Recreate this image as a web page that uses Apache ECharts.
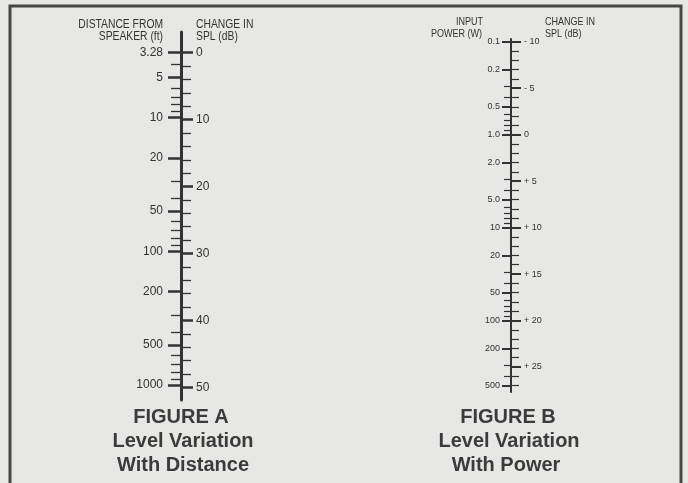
<!DOCTYPE html>
<html>
<head>
<meta charset="utf-8">
<title>Level Variation</title>
<script src="https://cdn.jsdelivr.net/npm/echarts@6/dist/echarts.min.js"></script>
<style>
    html, body { margin: 0; padding: 0; background: #e7e7e5; }
    #chart { width: 688px; height: 483px; }
</style>
</head>
<body>
<div id="chart"></div>
<script>
// figure A: distance (ft) against change in SPL (dB)
var distMajor = [3.28, 5, 10, 20, 50, 100, 200, 500, 1000];
var distLabels = ['3.28', '5', '10', '20', '50', '100', '200', '500', '1000'];
var distMinor = [4, 6, 7, 8, 9, 30, 40, 60, 70, 80, 90, 300, 400, 600, 700, 800, 900];
var dbMajorA = [0, 10, 20, 30, 40, 50];
var dbMinorA = [2, 4, 6, 8, 12, 14, 16, 18, 22, 24, 26, 28, 32, 34, 36, 38, 42, 44, 46, 48];

// figure B: input power (W) against change in SPL (dB)
var powerMajor = [0.1, 0.2, 0.5, 1, 2, 5, 10, 20, 50, 100, 200, 500];
var powerLabels = ['0.1', '0.2', '0.5', '1.0', '2.0', '5.0', '10', '20', '50', '100', '200', '500'];
var powerMinor = [0.3, 0.4, 0.6, 0.7, 0.8, 0.9, 3, 4, 6, 7, 8, 9, 30, 40, 60, 70, 80, 90, 300, 400];
var dbMajorB = [-10, -5, 0, 5, 10, 15, 20, 25];
var dbMinorB = [-9, -8, -7, -6, -4, -3, -2, -1, 1, 2, 3, 4, 6, 7, 8, 9, 11, 12, 13, 14, 16, 17, 18, 19, 21, 22, 23, 24, 26, 27];

var SANS = "'Liberation Sans', Arial, sans-serif",
    ink = '#333333',
    titleInk = '#3b3b3b';

function toDb(list, ref, k){
    return list.map(function(v){
        return k * Math.log10(v / ref);
    });
}

var distMajorDb = toDb(distMajor, 3.28, 20),
    distMinorDb = toDb(distMinor, 3.28, 20),
    powerMajorDb = toDb(powerMajor, 1, 10),
    powerMinorDb = toDb(powerMinor, 1, 10);

function lookup(values, labels){
    return function(v){
        for(var i = 0; i < values.length; i++){
            if(Math.abs(values[i] - v) < 1e-6) return labels[i];
        }
        return '';
    };
}

function signed(v){
    if(v < 0) return '- ' + (-v);
    if(v > 0) return '+ ' + v;
    return '0';
}

// one scale side of a nomogram; every side sits on the same vertical line
function scaleAxis(grid, range, opt){
    return {
        type: 'value',
        gridIndex: grid,
        min: range[0],
        max: range[1],
        inverse: true,
        position: 'left',
        axisLine: { show: !!opt.line, lineStyle: { color: ink, width: opt.line || 1 } },
        splitLine: { show: false },
        axisTick: {
            show: true,
            inside: opt.inside,
            length: opt.len,
            customValues: opt.ticks,
            lineStyle: { color: ink, width: opt.width }
        },
        axisLabel: opt.format ? {
            show: true,
            inside: opt.inside,
            margin: opt.margin,
            customValues: opt.ticks,
            formatter: opt.format,
            color: ink,
            fontFamily: SANS,
            fontSize: opt.size
        } : { show: false }
    };
}

// squeeze narrows the caption text like the condensed face of the original
function txt(text, x, y, align, font, color, squeeze){
    return {
        type: 'text',
        x: x,
        y: y,
        scaleX: squeeze || 1,
        style: {
            text: text,
            font: font,
            fill: color || ink,
            align: align,
            textAlign: align,
            verticalAlign: 'middle',
            textVerticalAlign: 'middle'
        }
    };
}

var rangeA = [-3.1, 51.9],
    rangeB = [-10.3, 27.7],
    headA = "12px " + SANS,
    headB = "11px " + SANS,
    big = "bold 20px " + SANS;

var chart = echarts.init(document.getElementById('chart'));

chart.setOption({
    backgroundColor: '#e7e7e5',
    animation: false,
    grid: [
        { left: 181, top: 32, width: 1, height: 368 },
        { left: 511, top: 39, width: 1, height: 353 }
    ],
    xAxis: [
        { type: 'value', gridIndex: 0, show: false },
        { type: 'value', gridIndex: 1, show: false }
    ],
    yAxis: [
        scaleAxis(0, rangeA, { line: 3, inside: false, len: 13, width: 2.5, ticks: distMajorDb, format: lookup(distMajorDb, distLabels), margin: 18, size: 12 }),
        scaleAxis(0, rangeA, { inside: false, len: 10, width: 1.3, ticks: distMinorDb }),
        scaleAxis(0, rangeA, { inside: true, len: 12, width: 2.5, ticks: dbMajorA, format: function(v){ return String(v); }, margin: 15, size: 12 }),
        scaleAxis(0, rangeA, { inside: true, len: 10, width: 1.3, ticks: dbMinorA }),

        scaleAxis(1, rangeB, { line: 2, inside: false, len: 9, width: 2, ticks: powerMajorDb, format: lookup(powerMajorDb, powerLabels), margin: 11, size: 9 }),
        scaleAxis(1, rangeB, { inside: false, len: 7, width: 1.2, ticks: powerMinorDb }),
        scaleAxis(1, rangeB, { inside: true, len: 10, width: 2, ticks: dbMajorB, format: signed, margin: 13, size: 9 }),
        scaleAxis(1, rangeB, { inside: true, len: 8, width: 1.2, ticks: dbMinorB })
    ],
    graphic: [
        {
            type: 'rect',
            shape: { x: 10, y: 6, width: 671, height: 520 },
            style: { fill: null, stroke: '#474747', lineWidth: 3 }
        },
        txt('DISTANCE FROM', 163, 25, 'right', headA, ink, 0.86),
        txt('SPEAKER (ft)', 163, 37, 'right', headA, ink, 0.86),
        txt('CHANGE IN', 196, 25, 'left', headA, ink, 0.86),
        txt('SPL (dB)', 196, 37, 'left', headA, ink, 0.86),
        txt('INPUT', 483, 22, 'right', headB, ink, 0.82),
        txt('POWER (W)', 482, 34, 'right', headB, ink, 0.82),
        txt('CHANGE IN', 545, 22, 'left', headB, ink, 0.82),
        txt('SPL (dB)', 545, 34, 'left', headB, ink, 0.82),
        txt('FIGURE A', 181, 417, 'center', big, titleInk),
        txt('Level Variation', 183, 441, 'center', big, titleInk),
        txt('With Distance', 183, 465, 'center', big, titleInk),
        txt('FIGURE B', 508, 417, 'center', big, titleInk),
        txt('Level Variation', 509, 441, 'center', big, titleInk),
        txt('With Power', 506, 465, 'center', big, titleInk)
    ]
});
</script>
</body>
</html>
